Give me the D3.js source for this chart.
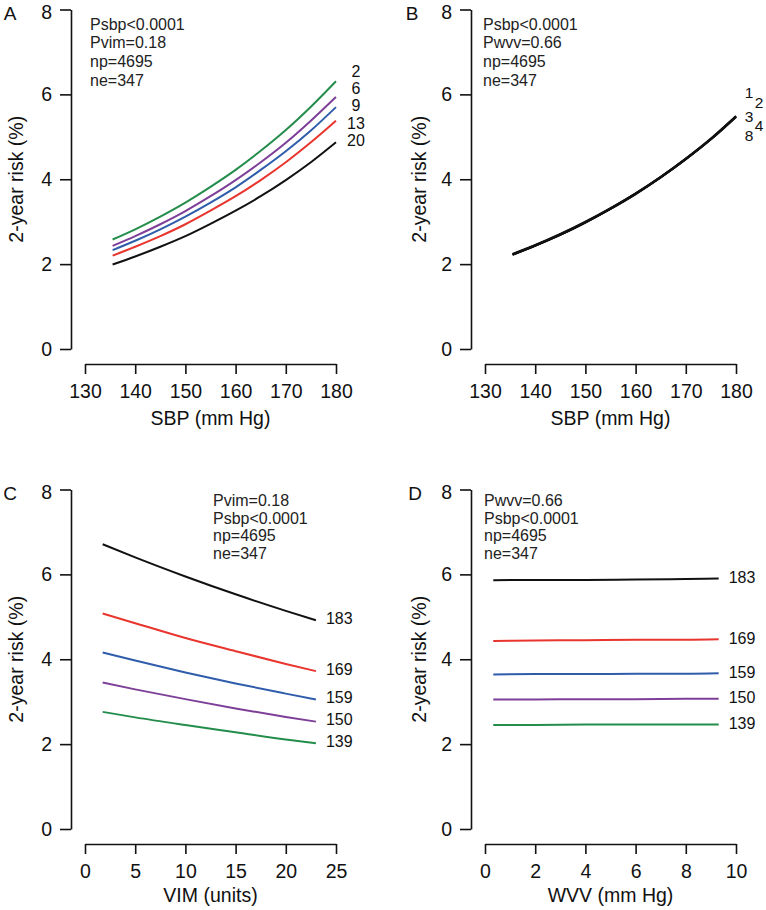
<!DOCTYPE html>
<html>
<head>
<meta charset="utf-8">
<script src="https://cdn.jsdelivr.net/npm/d3@7"></script>
<style>
  html, body { margin: 0; padding: 0; background: #fff; }
  svg { display: block; font-family: "Liberation Sans", Arial, Helvetica, sans-serif; }
</style>
</head>
<body>
<svg id="chart" width="766" height="910"></svg>
<script>
// ---------------- DATA ----------------
const sbpGrid = [135.5, 140, 145, 150, 155, 160, 165, 170, 175, 180];
const vimGrid = [1.76, 5, 10, 15, 20, 23];
const wvvGrid = [0.33, 2, 4, 6, 8, 9.31];

// Panel A: risk vs SBP at VIM levels
const vimLevels = ["2", "6", "9", "13", "20"];
const riskA_vim2  = [2.58, 2.82, 3.12, 3.45, 3.82, 4.22, 4.67, 5.16, 5.71, 6.31];
const riskA_vim6  = [2.43, 2.66, 2.94, 3.25, 3.60, 3.98, 4.40, 4.86, 5.38, 5.94];
const riskA_vim9  = [2.33, 2.55, 2.82, 3.12, 3.45, 3.81, 4.22, 4.66, 5.15, 5.70];
const riskA_vim13 = [2.20, 2.41, 2.66, 2.94, 3.26, 3.60, 3.98, 4.40, 4.87, 5.38];
const riskA_vim20 = [1.99, 2.18, 2.41, 2.66, 2.95, 3.26, 3.60, 3.98, 4.40, 4.87];

// Panel B: risk vs SBP at WVV levels (nearly identical)
const wvvLevels = ["1", "2", "3", "4", "8"];
const riskB_wvv1 = [2.22, 2.43, 2.69, 2.98, 3.30, 3.65, 4.04, 4.47, 4.94, 5.47];
const riskB_wvv2 = [2.22, 2.44, 2.69, 2.98, 3.30, 3.65, 4.04, 4.47, 4.94, 5.47];
const riskB_wvv3 = [2.23, 2.44, 2.70, 2.99, 3.31, 3.66, 4.05, 4.48, 4.95, 5.48];
const riskB_wvv4 = [2.23, 2.44, 2.70, 2.99, 3.31, 3.66, 4.05, 4.48, 4.95, 5.48];
const riskB_wvv8 = [2.24, 2.45, 2.71, 3.00, 3.32, 3.67, 4.06, 4.49, 4.96, 5.49];

// Panel C: risk vs VIM at SBP levels
const sbpLevels = ["183", "169", "159", "150", "139"];
const riskC_sbp183 = [6.71, 6.40, 5.95, 5.53, 5.14, 4.92];
const riskC_sbp169 = [5.08, 4.85, 4.50, 4.19, 3.89, 3.72];
const riskC_sbp159 = [4.16, 3.97, 3.69, 3.43, 3.19, 3.05];
const riskC_sbp150 = [3.45, 3.29, 3.06, 2.84, 2.64, 2.53];
const riskC_sbp139 = [2.76, 2.63, 2.45, 2.28, 2.11, 2.02];

// Panel D: risk vs WVV at SBP levels
const riskD_sbp183 = [5.86, 5.87, 5.87, 5.88, 5.89, 5.90];
const riskD_sbp169 = [4.43, 4.44, 4.45, 4.46, 4.46, 4.47];
const riskD_sbp159 = [3.64, 3.65, 3.65, 3.66, 3.66, 3.67];
const riskD_sbp150 = [3.05, 3.05, 3.06, 3.06, 3.07, 3.07];
const riskD_sbp139 = [2.45, 2.45, 2.46, 2.46, 2.46, 2.46];

const yTicks = [0, 2, 4, 6, 8];
const sbpTicks = [130, 140, 150, 160, 170, 180];
const vimTicks = [0, 5, 10, 15, 20, 25];
const wvvTicks = [0, 2, 4, 6, 8, 10];

const annotA = ["Psbp<0.0001", "Pvim=0.18", "np=4695", "ne=347"];
const annotB = ["Psbp<0.0001", "Pwvv=0.66", "np=4695", "ne=347"];
const annotC = ["Pvim=0.18", "Psbp<0.0001", "np=4695", "ne=347"];
const annotD = ["Pwvv=0.66", "Psbp<0.0001", "np=4695", "ne=347"];

// ---------------- STYLE ----------------
const GREEN = "#248d4c", PURPLE = "#7d3f98", BLUE = "#2f5dab", RED = "#e8352e", BLACK = "#111";
const colorsA = [GREEN, PURPLE, BLUE, RED, BLACK];
const colorsCD = [BLACK, RED, BLUE, PURPLE, GREEN];

const svg = d3.select("#chart");
const AXIS_FONT = 19.5;

function drawPanel(cfg) {
  const ox = cfg.ox, oy = cfg.oy;
  const x = d3.scaleLinear().domain(cfg.xDomain).range([85 + ox, 336 + ox]);
  const y = d3.scaleLinear().domain([0, 8]).range([349 + oy, 9.5 + oy]);
  const g = svg.append("g");

  // y axis
  const ya = g.append("g")
    .attr("transform", `translate(${71 + ox},0)`)
    .call(d3.axisLeft(y).tickValues(yTicks).tickSize(11).tickSizeOuter(0).tickPadding(8).tickFormat(d3.format("d")));
  // x axis
  const xa = g.append("g")
    .attr("transform", `translate(0,${364 + oy})`)
    .call(d3.axisBottom(x).tickValues(cfg.xTicks).tickSize(10).tickSizeOuter(0).tickPadding(10).tickFormat(d3.format("d")));
  [ya, xa].forEach(a => {
    a.selectAll("path.domain").attr("stroke", "#111").attr("stroke-width", 1.6);
    a.selectAll(".tick line").attr("stroke", "#111").attr("stroke-width", 1.6);
    a.selectAll(".tick text").attr("fill", "#111").style("font-size", AXIS_FONT + "px")
      .style("font-family", '"Liberation Sans", Arial, sans-serif');
  });
  // top y tick label sits slightly lower (as in reference)
  ya.selectAll(".tick text").filter(d => d === 8).attr("dy", "0.45em");

  // axis titles
  g.append("text")
    .attr("x", (85 + 336) / 2 + ox)
    .attr("y", 364 + oy + cfg.xTitleOff)
    .attr("text-anchor", "middle").attr("dominant-baseline", "central")
    .style("font-size", AXIS_FONT + "px").attr("fill", "#111")
    .text(cfg.xTitle);
  g.append("text")
    .attr("transform", `translate(${71 + ox - cfg.yTitleOff},${(349 + 9.5) / 2 + oy}) rotate(-90)`)
    .attr("text-anchor", "middle").attr("dominant-baseline", "central")
    .style("font-size", AXIS_FONT + "px").attr("fill", "#111")
    .text("2-year risk (%)");

  // panel letter
  g.append("text")
    .attr("x", cfg.letterX).attr("y", 13 + oy)
    .attr("text-anchor", "middle").attr("dominant-baseline", "central")
    .style("font-size", "19px").attr("fill", "#111")
    .text(cfg.letter);

  // annotation
  cfg.annot.forEach((t, i) => {
    g.append("text")
      .attr("x", 71 + ox + cfg.annotDx)
      .attr("y", 9.5 + oy + cfg.annotTop + i * cfg.annotStep)
      .style("font-size", "16px").attr("fill", "#222")
      .text(t);
  });

  // lines
  const line = d3.line().x(d => x(d[0])).y(d => y(d[1])).curve(d3.curveMonotoneX);
  cfg.series.forEach((s, i) => {
    const pts = cfg.xGrid.map((xv, j) => [xv, s[j]]);
    g.append("path").datum(pts)
      .attr("d", line)
      .attr("fill", "none")
      .attr("stroke", cfg.colors[i])
      .attr("stroke-width", 2)
      .attr("stroke-linejoin", "round");
  });

  // series labels
  const xEnd = x(cfg.xGrid[cfg.xGrid.length - 1]);
  cfg.labels.forEach((lab, i) => {
    const s = cfg.series[i];
    const yEnd = y(s[s.length - 1]);
    const p = cfg.labelPos(i, xEnd, yEnd, cfg.series.map(ss => y(ss[ss.length - 1])));
    g.append("text")
      .attr("x", p[0]).attr("y", p[1])
      .attr("text-anchor", p[2]).attr("dominant-baseline", "central")
      .style("font-size", p[3] || "16px").attr("fill", "#111")
      .text(lab);
  });
}

// A
drawPanel({
  letter: "A", letterX: 10, ox: 0, oy: 0,
  xDomain: [130, 180], xTicks: sbpTicks, xGrid: sbpGrid, xTitle: "SBP (mm Hg)", xTitleOff: 54, yTitleOff: 55,
  annot: annotA, annotDx: 19, annotTop: 20, annotStep: 18.8,
  series: [riskA_vim2, riskA_vim6, riskA_vim9, riskA_vim13, riskA_vim20], colors: colorsA,
  labels: vimLevels,
  labelPos: (i, xe, ye, ends) => [xe + 20, ends[0] - 10 + i * 17.3, "middle"]
});
// B
drawPanel({
  letter: "B", letterX: 412, ox: 400, oy: 0,
  xDomain: [130, 180], xTicks: sbpTicks, xGrid: sbpGrid, xTitle: "SBP (mm Hg)", xTitleOff: 54, yTitleOff: 52,
  annot: annotB, annotDx: 12, annotTop: 20, annotStep: 18.8,
  series: [riskB_wvv1, riskB_wvv2, riskB_wvv3, riskB_wvv4, riskB_wvv8], colors: [BLACK, BLACK, BLACK, BLACK, BLACK],
  labels: wvvLevels,
  labelPos: (i, xe, ye, ends) => {
    const dy = [-24, -14, 0, 9, 19][i];
    const dx = [13, 23, 13, 23, 13][i];
    return [xe + dx, ends[2] + dy, "middle", "15.5px"];
  }
});
// C
drawPanel({
  letter: "C", letterX: 10, ox: 0, oy: 480,
  xDomain: [0, 25], xTicks: vimTicks, xGrid: vimGrid, xTitle: "VIM (units)", xTitleOff: 51, yTitleOff: 55,
  annot: annotC, annotDx: 142, annotTop: 16.5, annotStep: 17.6,
  series: [riskC_sbp183, riskC_sbp169, riskC_sbp159, riskC_sbp150, riskC_sbp139], colors: colorsCD,
  labels: sbpLevels,
  labelPos: (i, xe, ye) => [xe + 10, ye - 2, "start"]
});
// D
drawPanel({
  letter: "D", letterX: 415, ox: 400, oy: 480,
  xDomain: [0, 10], xTicks: wvvTicks, xGrid: wvvGrid, xTitle: "WVV (mm Hg)", xTitleOff: 51, yTitleOff: 52,
  annot: annotD, annotDx: 13, annotTop: 16.5, annotStep: 17.6,
  series: [riskD_sbp183, riskD_sbp169, riskD_sbp159, riskD_sbp150, riskD_sbp139], colors: colorsCD,
  labels: sbpLevels,
  labelPos: (i, xe, ye) => [xe + 10, ye - 1, "start"]
});
</script>
</body>
</html>
